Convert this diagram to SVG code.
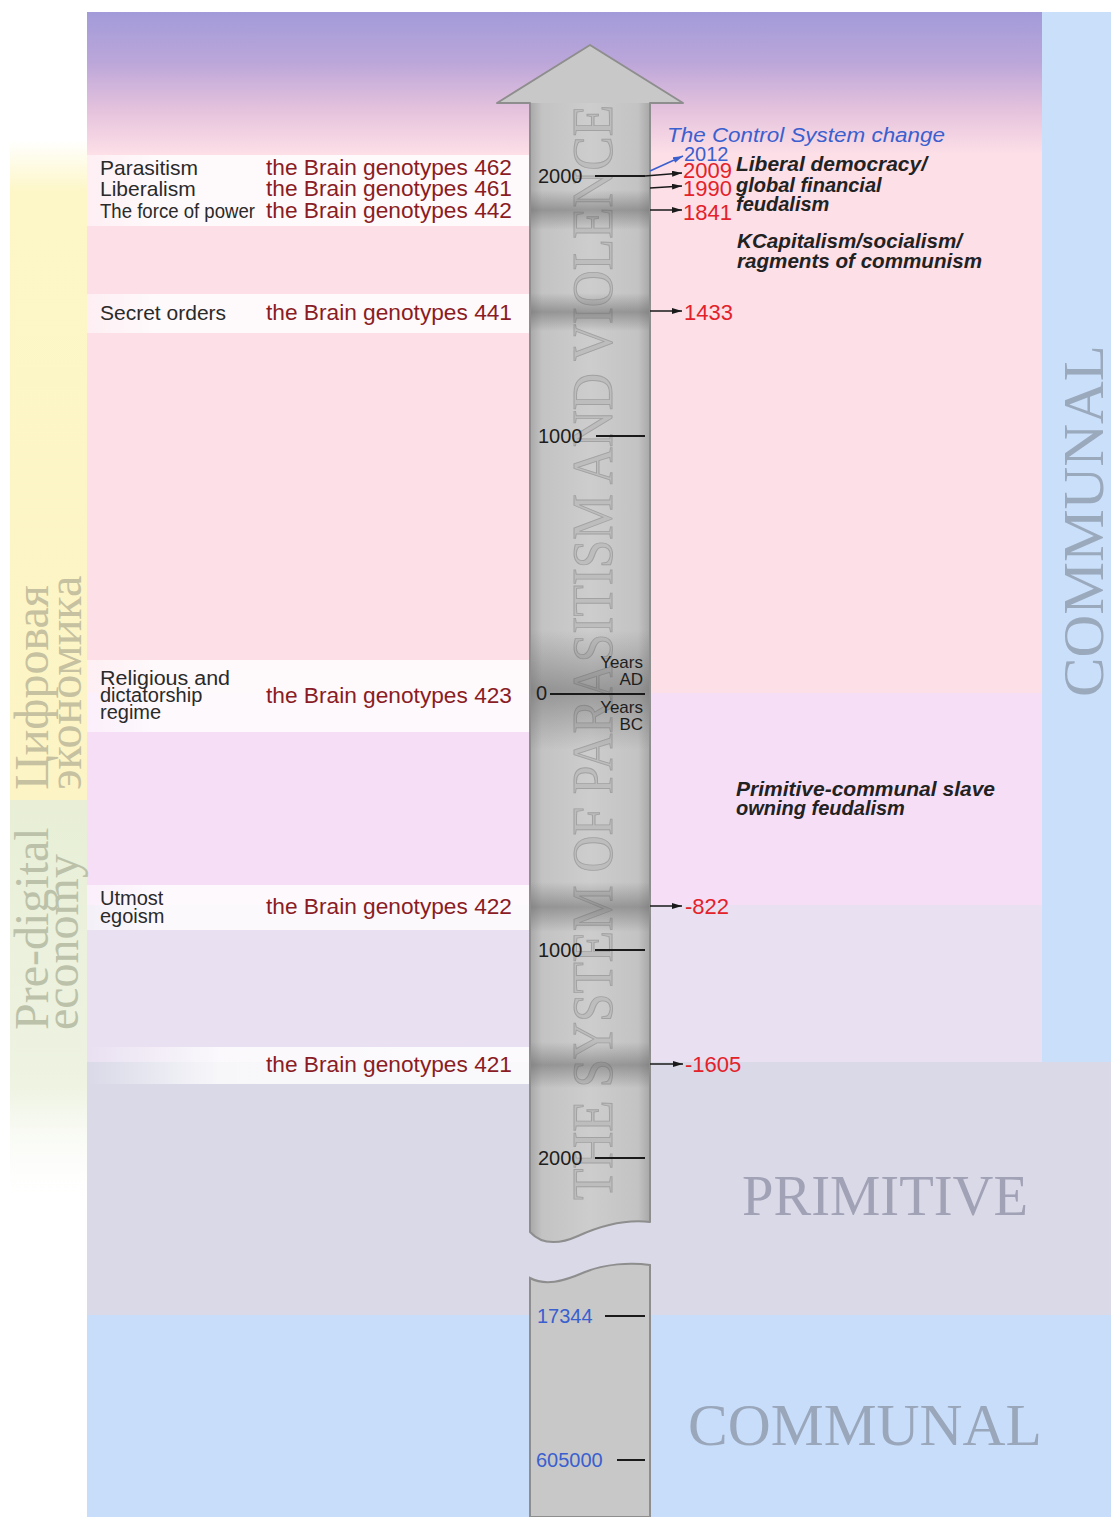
<svg xmlns="http://www.w3.org/2000/svg" width="1111" height="1517" viewBox="0 0 1111 1517">
<defs>
  <style>
    .lbl{font-family:"Liberation Sans",Arial,sans-serif;font-size:21px;fill:#2a2a2a}
    .lbl2{font-family:"Liberation Sans",Arial,sans-serif;font-size:20px;fill:#2a2a2a}
    .geno{font-family:"Liberation Sans",Arial,sans-serif;font-size:21.5px;fill:#8b1c24}
    .tick{font-family:"Liberation Sans",Arial,sans-serif;font-size:20px;fill:#1e1e1e}
    .tickb{font-family:"Liberation Sans",Arial,sans-serif;font-size:20px;fill:#3a5fcf}
    .yr{font-family:"Liberation Sans",Arial,sans-serif;font-size:22px;fill:#e3222a}
    .era{font-family:"Liberation Sans",Arial,sans-serif;font-size:20px;font-weight:bold;font-style:italic;fill:#222}
    .small{font-family:"Liberation Sans",Arial,sans-serif;font-size:17px;fill:#1e1e1e}
    .big{font-family:"Liberation Serif","Times New Roman",serif}
    .tk{stroke:#1a1a1a;stroke-width:2}
    .conn{stroke:#1a1a1a;stroke-width:1.5;fill:none}
  </style>
  <linearGradient id="sky" x1="0" y1="0" x2="0" y2="1">
    <stop offset="0" stop-color="#a29bd9"/>
    <stop offset="0.35" stop-color="#bba6d9"/>
    <stop offset="0.7" stop-color="#e6c3dd"/>
    <stop offset="1" stop-color="#fcdfe7"/>
  </linearGradient>
  <linearGradient id="ylw" x1="0" y1="0" x2="0" y2="1">
    <stop offset="0" stop-color="#fdf6c6" stop-opacity="0"/>
    <stop offset="0.08" stop-color="#fdf6c6"/>
    <stop offset="1" stop-color="#fcf4c4"/>
  </linearGradient>
  <linearGradient id="grn" x1="0" y1="0" x2="0" y2="1">
    <stop offset="0" stop-color="#e8efd6"/>
    <stop offset="0.7" stop-color="#eef3e2"/>
    <stop offset="1" stop-color="#ffffff" stop-opacity="0"/>
  </linearGradient>
  <linearGradient id="shaft" gradientUnits="userSpaceOnUse" x1="530" y1="0" x2="650" y2="0">
    <stop offset="0" stop-color="#a8a8a8"/>
    <stop offset="0.1" stop-color="#c3c3c3"/>
    <stop offset="0.5" stop-color="#cdcdcd"/>
    <stop offset="0.9" stop-color="#c3c3c3"/>
    <stop offset="1" stop-color="#a8a8a8"/>
  </linearGradient>
  <linearGradient id="band" x1="0" y1="0" x2="0" y2="1">
    <stop offset="0" stop-color="#5a5a5a" stop-opacity="0"/>
    <stop offset="0.5" stop-color="#5a5a5a" stop-opacity="0.45"/>
    <stop offset="1" stop-color="#5a5a5a" stop-opacity="0"/>
  </linearGradient>
  <linearGradient id="wband" x1="0" y1="0" x2="1" y2="0">
    <stop offset="0" stop-color="#ffffff" stop-opacity="0.5"/>
    <stop offset="0.15" stop-color="#ffffff" stop-opacity="0.82"/>
    <stop offset="1" stop-color="#ffffff" stop-opacity="0.82"/>
  </linearGradient>
  <linearGradient id="wband2" x1="0" y1="0" x2="1" y2="0">
    <stop offset="0" stop-color="#ffffff" stop-opacity="0"/>
    <stop offset="0.3" stop-color="#ffffff" stop-opacity="0.8"/>
    <stop offset="1" stop-color="#ffffff" stop-opacity="0.85"/>
  </linearGradient>
  <clipPath id="arrowClip">
    <path d="M530,103 L497,103 L590,45 L683,103 L650,103 L650,1222 C625,1219 600,1226 578,1236 C560,1244 542,1245 530,1232 Z"/>
  </clipPath>
  <marker id="ah" viewBox="0 0 10 6" refX="10" refY="3" markerWidth="10" markerHeight="6" markerUnits="userSpaceOnUse" orient="auto">
    <path d="M0,0 L10,3 L0,6 Z" fill="#1a1a1a"/>
  </marker>
  <marker id="ahb" viewBox="0 0 10 6" refX="10" refY="3" markerWidth="10" markerHeight="6" markerUnits="userSpaceOnUse" orient="auto">
    <path d="M0,0 L10,3 L0,6 Z" fill="#3a5fcf"/>
  </marker>
</defs>

<rect width="1111" height="1517" fill="#ffffff"/>

<g id="background">
  <rect x="87" y="12" width="955" height="142" fill="url(#sky)"/>
  <rect x="87" y="153" width="955" height="540" fill="#fcdfe7"/>
  <rect x="87" y="693" width="955" height="212" fill="#f6dff6"/>
  <rect x="87" y="905" width="955" height="157" fill="#e9e0f1"/>
  <rect x="1042" y="12" width="69" height="1050" fill="#cadff9"/>
  <rect x="87" y="1062" width="1024" height="253" fill="#d9d9e8"/>
  <rect x="87" y="1315" width="1024" height="202" fill="#c8ddfa"/>
  <rect x="10" y="140" width="77" height="660" fill="url(#ylw)"/>
  <rect x="10" y="800" width="77" height="410" fill="url(#grn)"/>
  <rect x="87" y="155" width="443" height="71" fill="url(#wband)"/>
  <rect x="87" y="294" width="443" height="39" fill="url(#wband)"/>
  <rect x="87" y="660" width="443" height="72" fill="url(#wband)"/>
  <rect x="87" y="885" width="443" height="45" fill="url(#wband)"/>
  <rect x="87" y="1047" width="443" height="37" fill="url(#wband2)"/>
</g>

<g id="side-labels" class="big">
  <text transform="translate(48,790) rotate(-90)" font-size="48" fill="#c6c1a0">Цифровая</text>
  <text transform="translate(81,790) rotate(-90)" font-size="48" fill="#c6c1a0">экономика</text>
  <text transform="translate(48,1030) rotate(-90)" font-size="48" fill="#bcc2aa">Pre-digital</text>
  <text transform="translate(78,1030) rotate(-90)" font-size="48" fill="#bcc2aa">economy</text>
  <text transform="translate(1103,697) rotate(-90)" font-size="58" fill="#9ba9bd" textLength="352" lengthAdjust="spacingAndGlyphs">COMMUNAL</text>
  <text x="742" y="1215" font-size="57" fill="#a2a2b6" textLength="286" lengthAdjust="spacingAndGlyphs">PRIMITIVE</text>
  <text x="688" y="1445" font-size="59" fill="#9aa7bb" textLength="354" lengthAdjust="spacingAndGlyphs">COMMUNAL</text>
</g>

<g id="timeline-arrow">
  <path d="M530,103 L497,103 L590,45 L683,103 L650,103 L650,1222 C625,1219 600,1226 578,1236 C560,1244 542,1245 530,1232 Z" fill="url(#shaft)"/>
  <path d="M497,103 L590,45 L683,103 Z" fill="#c8c8c8"/>
  <text transform="translate(612,1200) rotate(-90)" class="big" font-size="58" fill="#bdbdbd" stroke="#a2a2a2" stroke-width="1" textLength="1095" lengthAdjust="spacingAndGlyphs">THE SYSTEM OF PARASITISM AND VIOLENCE</text>
  <g clip-path="url(#arrowClip)">
    <rect x="528" y="190" width="124" height="40" fill="url(#band)"/>
    <rect x="528" y="293" width="124" height="38" fill="url(#band)"/>
    <rect x="528" y="630" width="124" height="120" fill="url(#band)"/>
    <rect x="528" y="882" width="124" height="50" fill="url(#band)"/>
    <rect x="528" y="1042" width="124" height="46" fill="url(#band)"/>
  </g>
  <path d="M530,103 L497,103 L590,45 L683,103 L650,103 L650,1222 C625,1219 600,1226 578,1236 C560,1244 542,1245 530,1232 Z" fill="none" stroke="#8e8e8e" stroke-width="2" stroke-linejoin="round"/>
  <path d="M530,1278 C545,1286 562,1282 585,1272 C605,1264 630,1262 650,1265 L650,1517 L530,1517 Z" fill="#c8c8c8" stroke="#8e8e8e" stroke-width="2"/>
</g>

<g id="scale-ticks">
  <text x="538" y="183" class="tick">2000</text><line x1="595" y1="176" x2="645" y2="176" class="tk"/>
  <text x="538" y="443" class="tick">1000</text><line x1="596" y1="436" x2="645" y2="436" class="tk"/>
  <text x="536" y="700" class="tick">0</text><line x1="550" y1="694" x2="645" y2="694" class="tk"/>
  <text x="643" y="668" class="small" text-anchor="end">Years</text>
  <text x="643" y="685" class="small" text-anchor="end">AD</text>
  <text x="643" y="713" class="small" text-anchor="end">Years</text>
  <text x="643" y="730" class="small" text-anchor="end">BC</text>
  <text x="538" y="957" class="tick">1000</text><line x1="595" y1="950" x2="645" y2="950" class="tk"/>
  <text x="538" y="1165" class="tick">2000</text><line x1="595" y1="1158" x2="645" y2="1158" class="tk"/>
  <text x="537" y="1323" class="tickb">17344</text><line x1="605" y1="1316" x2="645" y2="1316" class="tk"/>
  <text x="536" y="1467" class="tickb">605000</text><line x1="617" y1="1460" x2="645" y2="1460" class="tk"/>
</g>

<g id="connectors">
  <line x1="645" y1="176" x2="682" y2="173" class="conn" marker-end="url(#ah)"/>
  <line x1="650" y1="188" x2="682" y2="186" class="conn" marker-end="url(#ah)"/>
  <line x1="650" y1="210" x2="682" y2="210" class="conn" marker-end="url(#ah)"/>
  <line x1="650" y1="311" x2="682" y2="311" class="conn" marker-end="url(#ah)"/>
  <line x1="650" y1="906" x2="682" y2="906" class="conn" marker-end="url(#ah)"/>
  <line x1="650" y1="1064" x2="683" y2="1064" class="conn" marker-end="url(#ah)"/>
  <line x1="650" y1="171" x2="683" y2="156" stroke="#3a5fcf" stroke-width="1.5" marker-end="url(#ahb)"/>
</g>

<g id="node-462">
  <text x="100" y="175" class="lbl">Parasitism</text>
  <text x="266" y="175" class="geno" textLength="246" lengthAdjust="spacingAndGlyphs">the Brain genotypes 462</text>
</g>
<g id="node-461">
  <text x="100" y="196" class="lbl">Liberalism</text>
  <text x="266" y="196" class="geno" textLength="246" lengthAdjust="spacingAndGlyphs">the Brain genotypes 461</text>
</g>
<g id="node-442">
  <text x="100" y="218" class="lbl" textLength="155" lengthAdjust="spacingAndGlyphs">The force of power</text>
  <text x="266" y="218" class="geno" textLength="246" lengthAdjust="spacingAndGlyphs">the Brain genotypes 442</text>
</g>
<g id="node-441">
  <text x="100" y="320" class="lbl">Secret orders</text>
  <text x="266" y="320" class="geno" textLength="246" lengthAdjust="spacingAndGlyphs">the Brain genotypes 441</text>
</g>
<g id="node-423">
  <text x="100" y="685" class="lbl2" textLength="130" lengthAdjust="spacingAndGlyphs">Religious and</text>
  <text x="100" y="702" class="lbl2">dictatorship</text>
  <text x="100" y="719" class="lbl2">regime</text>
  <text x="266" y="703" class="geno" textLength="246" lengthAdjust="spacingAndGlyphs">the Brain genotypes 423</text>
</g>
<g id="node-422">
  <text x="100" y="905" class="lbl2">Utmost</text>
  <text x="100" y="923" class="lbl2">egoism</text>
  <text x="266" y="914" class="geno" textLength="246" lengthAdjust="spacingAndGlyphs">the Brain genotypes 422</text>
</g>
<g id="node-421">
  <text x="266" y="1072" class="geno" textLength="246" lengthAdjust="spacingAndGlyphs">the Brain genotypes 421</text>
</g>

<g id="node-years">
  <text x="667" y="142" font-family="Liberation Sans, Arial, sans-serif" font-size="20" font-style="italic" fill="#3a5fcf" textLength="278" lengthAdjust="spacingAndGlyphs">The Control System change</text>
  <text x="684" y="161" font-family="Liberation Sans, Arial, sans-serif" font-size="20" fill="#3a5fcf">2012</text>
  <text x="683" y="178" class="yr">2009</text>
  <text x="683" y="196" class="yr">1990</text>
  <text x="683" y="220" class="yr">1841</text>
  <text x="684" y="320" class="yr">1433</text>
  <text x="685" y="914" class="yr">-822</text>
  <text x="685" y="1072" class="yr">-1605</text>
</g>

<g id="node-eras">
  <text x="736" y="171" class="era" textLength="191" lengthAdjust="spacingAndGlyphs">Liberal democracy/</text>
  <text x="736" y="192" class="era">global financial</text>
  <text x="736" y="211" class="era">feudalism</text>
  <text x="737" y="248" class="era" textLength="225" lengthAdjust="spacingAndGlyphs">KCapitalism/socialism/</text>
  <text x="737" y="268" class="era" textLength="245" lengthAdjust="spacingAndGlyphs">ragments of communism</text>
  <text x="736" y="796" class="era" textLength="259" lengthAdjust="spacingAndGlyphs">Primitive-communal slave</text>
  <text x="736" y="815" class="era">owning feudalism</text>
</g>
</svg>
